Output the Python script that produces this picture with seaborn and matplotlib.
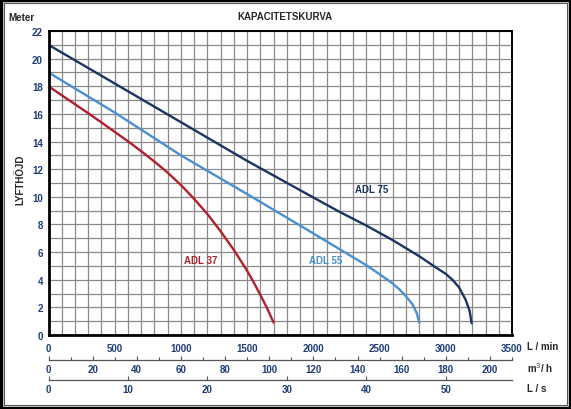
import numpy as np
import pandas as pd
import matplotlib
matplotlib.use("Agg")
import matplotlib.pyplot as plt
import matplotlib.ticker as mticker
from matplotlib.patches import Rectangle
import seaborn as sns

# ─── DATA (flow in L/min, head in metres) ───────────────────────────────────
adl37_flow = [0, 100, 200, 300, 400, 500, 600, 700, 800, 900, 1000,
              1100, 1200, 1300, 1400, 1500, 1550, 1600, 1650, 1700]
adl37_head = [18.0, 17.35, 16.7, 16.05, 15.38, 14.7, 14.02, 13.3, 12.55, 11.75, 10.85,
              9.85, 8.75, 7.5, 6.15, 4.65, 3.8, 2.9, 1.95, 0.9]

adl55_flow = [0, 500, 1000, 1500, 2000, 2200, 2400, 2500, 2600, 2650, 2700, 2750, 2780, 2800]
adl55_head = [19.0, 16.1, 13.0, 10.2, 7.35, 6.2, 5.05, 4.4, 3.72, 3.3, 2.8, 2.2, 1.6, 0.9]

adl75_flow = [0, 500, 1000, 1500, 2000, 2200, 2400, 2600, 2800, 2900, 3000,
              3050, 3100, 3150, 3180, 3195]
adl75_head = [21.0, 18.2, 15.4, 12.6, 9.95, 8.9, 7.92, 6.86, 5.7, 5.05, 4.42,
              4.0, 3.45, 2.55, 1.75, 0.85]

series_names = ["ADL 37", "ADL 55", "ADL 75"]
label_pos = [(1150, 5.4), (2090, 5.4), (2440, 10.6)]

m3h_ticks = [0, 20, 40, 60, 80, 100, 120, 140, 160, 180, 200]
m3h_minor = [10, 30, 50, 70, 90, 110, 130, 150, 170, 190, 210]
ls_ticks = [0, 10, 20, 30, 40, 50]

# ─── STYLE ──────────────────────────────────────────────────────────────────
sns.set_style("white")
plt.rcParams["font.family"] = ["Liberation Sans", "DejaVu Sans"]
TICK_COLOR = "#1f3c78"
COLORS = {"ADL 37": "#b0202c", "ADL 55": "#4a8fd0", "ADL 75": "#1b3461"}

df = pd.concat([
    pd.DataFrame({"flow": adl37_flow, "head": adl37_head, "pump": "ADL 37"}),
    pd.DataFrame({"flow": adl55_flow, "head": adl55_head, "pump": "ADL 55"}),
    pd.DataFrame({"flow": adl75_flow, "head": adl75_head, "pump": "ADL 75"}),
])

W, H = 571, 410
fig = plt.figure(figsize=(W / 100, H / 100), dpi=100)
ax = fig.add_axes([48.5 / W, 1 - 336 / H, (512 - 48.5) / W, (336 - 32) / H])

for name in series_names:
    sub = df[df["pump"] == name]
    sns.lineplot(data=sub, x="flow", y="head", ax=ax, color=COLORS[name],
                 lw=1.7, sort=True, estimator=None)

for name, (lx, ly) in zip(series_names, label_pos):
    ax.text(lx, ly, name, color=COLORS[name], fontsize=7, fontweight="bold",
            ha="center", va="center")

ax.set_xlim(0, 3500)
ax.set_ylim(0, 22)
ax.xaxis.set_major_locator(mticker.MultipleLocator(500))
ax.xaxis.set_minor_locator(mticker.MultipleLocator(100))
ax.yaxis.set_major_locator(mticker.MultipleLocator(2))
ax.yaxis.set_minor_locator(mticker.MultipleLocator(1))
ax.grid(True, which="both", color="#8a8a8a", lw=0.9)
ax.set_axisbelow(True)
ax.tick_params(which="both", length=0, labelsize=7, labelcolor=TICK_COLOR)
ax.tick_params(axis="x", pad=6)
ax.tick_params(axis="y", pad=4)
for lbl in ax.get_xticklabels() + ax.get_yticklabels():
    lbl.set_fontweight("bold")
for side in ["left", "bottom"]:
    ax.spines[side].set_linewidth(2.0)
for side in ["top", "right"]:
    ax.spines[side].set_linewidth(1.4)
for sp in ax.spines.values():
    sp.set_color("black")
ax.set_xlabel("")
ax.set_ylabel("")

# secondary flow scales
sec1 = ax.secondary_xaxis(-25 / 304, functions=(lambda x: x * 0.06, lambda x: x / 0.06))
sec1.xaxis.set_major_locator(mticker.FixedLocator(m3h_ticks))
sec1.xaxis.set_minor_locator(mticker.FixedLocator(m3h_minor))
sec1.tick_params(which="major", direction="in", length=3, width=0.8, color="#555555",
                 labelsize=7, labelcolor=TICK_COLOR, pad=3)
sec1.tick_params(which="minor", direction="in", length=2, width=0.8, color="#555555")
sec1.spines["bottom"].set_color("#555555")
sec1.spines["bottom"].set_linewidth(0.9)
for lbl in sec1.get_xticklabels():
    lbl.set_fontweight("bold")

sec2 = ax.secondary_xaxis(-45 / 304, functions=(lambda x: x / 60, lambda x: x * 60))
sec2.xaxis.set_major_locator(mticker.FixedLocator(ls_ticks))
sec2.tick_params(which="major", direction="in", length=3, width=0.8, color="#555555",
                 labelsize=7, labelcolor=TICK_COLOR, pad=3)
sec2.spines["bottom"].set_color("#555555")
sec2.spines["bottom"].set_linewidth(0.9)
for lbl in sec2.get_xticklabels():
    lbl.set_fontweight("bold")

# texts
fig.text(285 / W, 1 - 17 / H, "KAPACITETSKURVA", fontsize=7, fontweight="bold",
         ha="center", va="center")
fig.text(8 / W, 1 - 18 / H, "Meter", fontsize=7, fontweight="bold", ha="left", va="center")
fig.text(20 / W, 1 - 180 / H, "LYFTHÖJD", fontsize=7, fontweight="bold", rotation=90,
         ha="center", va="center")
fig.text(527 / W, 1 - 347 / H, "L / min", fontsize=7, fontweight="bold", ha="left", va="center")
fig.text(527 / W, 1 - 368 / H, "m$^3$/ h", fontsize=7, fontweight="bold", ha="left", va="center")
fig.text(527 / W, 1 - 389 / H, "L / s", fontsize=7, fontweight="bold", ha="left", va="center")

# double frame
fig.patches.append(Rectangle((1 / W, 1 / H), 1 - 2 / W, 1 - 2 / H, transform=fig.transFigure,
                             fill=False, ec="black", lw=2.5))
fig.patches.append(Rectangle((4 / W, 4 / H), 1 - 8 / W, 1 - 8 / H, transform=fig.transFigure,
                             fill=False, ec="#555555", lw=0.8))

fig.savefig("out.png", dpi=100)
plt.close(fig)
